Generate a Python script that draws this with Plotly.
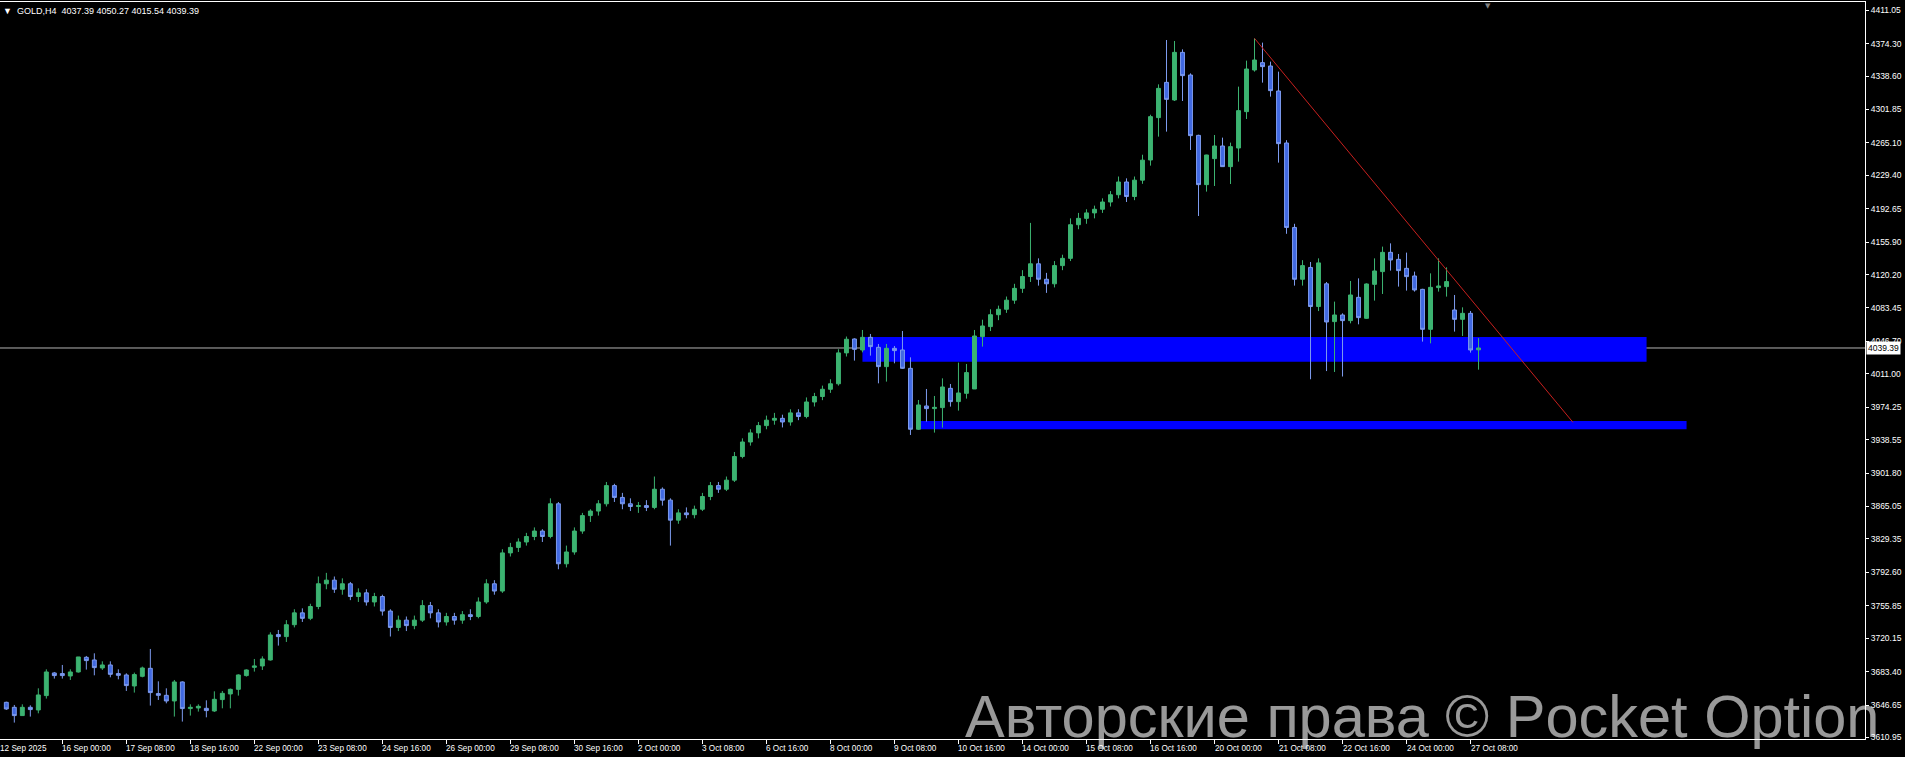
import datetime as dt
import plotly.graph_objects as go

# ---------------- data ----------------
symbol = "GOLD,H4"
first_bar_time = dt.datetime(2025, 9, 12, 20, 0)

opens = [
    3649.6, 3644.1, 3635.0, 3644.1, 3641.2, 3657.0, 3681.9, 3681.2, 3678.6, 3683.0,
    3699.1, 3696.2, 3687.4, 3690.7, 3681.2, 3679.7, 3667.6, 3678.2, 3687.0, 3659.2,
    3657.3, 3651.1, 3672.0, 3642.7, 3643.4, 3643.0, 3640.1, 3652.6, 3658.8, 3663.9,
    3679.0, 3688.1, 3689.6, 3696.2, 3724.1, 3721.9, 3735.0, 3748.0, 3742.0, 3755.0,
    3780.0, 3784.0, 3774.0, 3780.0, 3766.0, 3770.0, 3760.0, 3766.0, 3750.0, 3732.0,
    3740.0, 3734.0, 3740.0, 3756.0, 3748.0, 3738.0, 3744.0, 3740.0, 3746.0, 3744.0,
    3760.0, 3780.0, 3772.0, 3814.0, 3820.0, 3826.0, 3832.0, 3838.0, 3832.0, 3868.0,
    3802.0, 3815.0, 3838.0, 3855.0, 3860.0, 3868.0, 3888.0, 3875.0, 3868.0, 3865.0,
    3866.0, 3864.0, 3884.0, 3872.0, 3850.0, 3858.0, 3856.0, 3862.0, 3876.0, 3888.0,
    3884.0, 3894.0, 3920.0, 3936.0, 3946.0, 3954.0, 3960.0, 3962.0, 3958.0, 3968.0,
    3964.0, 3980.0, 3986.0, 3994.0, 4000.0, 4034.0, 4049.3, 4037.2, 4051.1, 4040.1,
    4018.9, 4039.0, 4037.2, 4017.0, 3950.0, 3975.6, 3972.7, 3973.8, 3995.0, 3980.4,
    3989.5, 3994.3, 4051.9, 4062.9, 4076.0, 4082.0, 4092.0, 4105.0, 4118.0, 4132.0,
    4115.0, 4110.0, 4130.0, 4138.0, 4175.0, 4182.0, 4188.0, 4192.0, 4200.0, 4208.0,
    4222.0, 4206.0, 4224.0, 4246.2, 4292.8, 4331.6, 4312.2, 4364.6, 4339.7, 4273.3,
    4219.1, 4247.7, 4261.6, 4238.9, 4259.4, 4299.4, 4345.2, 4353.3, 4349.6, 4322.1,
    4264.9, 4172.0, 4115.0, 4128.0, 4085.0, 4110.0, 4068.4, 4075.7, 4069.5, 4095.1,
    4072.0, 4109.4, 4123.4, 4144.6, 4136.9, 4127.0, 4118.6, 4103.9, 4059.9, 4105.8,
    4106.9, 4081.2, 4070.9, 4077.5, 4037.39,
]
highs = [
    3650.3, 3646.7, 3647.4, 3646.3, 3665.0, 3685.9, 3683.0, 3690.7, 3685.9, 3699.5,
    3700.6, 3703.5, 3694.7, 3694.7, 3685.9, 3681.5, 3682.3, 3688.9, 3708.3, 3672.7,
    3665.0, 3674.2, 3672.7, 3647.4, 3647.4, 3651.8, 3661.7, 3662.1, 3664.7, 3680.4,
    3685.9, 3697.3, 3700.2, 3726.6, 3729.2, 3740.0, 3752.0, 3753.0, 3758.0, 3788.0,
    3792.0, 3788.0, 3786.0, 3782.0, 3775.0, 3774.0, 3770.0, 3768.0, 3752.0, 3745.0,
    3744.0, 3745.0, 3762.0, 3760.0, 3752.0, 3748.0, 3748.0, 3750.0, 3752.0, 3765.0,
    3785.0, 3784.0, 3818.0, 3825.0, 3830.0, 3836.0, 3842.0, 3840.0, 3874.0, 3870.0,
    3822.0, 3842.0, 3858.0, 3862.0, 3872.0, 3892.0, 3890.0, 3880.0, 3874.0, 3870.0,
    3872.0, 3898.0, 3886.0, 3874.0, 3862.0, 3864.0, 3866.0, 3880.0, 3892.0, 3892.0,
    3898.0, 3925.0, 3940.0, 3950.0, 3958.0, 3965.0, 3968.0, 3966.0, 3972.0, 3972.0,
    3985.0, 3990.0, 3998.0, 4005.0, 4038.0, 4052.0, 4050.0, 4059.2, 4054.8, 4043.8,
    4043.8, 4041.6, 4058.1, 4029.1, 3982.2, 3994.3, 3986.6, 4006.0, 3999.8, 4023.3,
    4021.8, 4059.2, 4070.5, 4082.0, 4086.0, 4096.0, 4110.0, 4125.0, 4177.0, 4138.0,
    4122.0, 4135.0, 4142.0, 4182.0, 4188.0, 4192.0, 4196.0, 4204.0, 4212.0, 4228.0,
    4226.0, 4228.0, 4252.0, 4296.0, 4329.4, 4378.2, 4377.1, 4367.9, 4341.5, 4274.0,
    4252.0, 4273.7, 4270.8, 4265.3, 4326.9, 4355.5, 4380.0, 4375.3, 4354.4, 4343.4,
    4268.0, 4176.0, 4136.0, 4134.0, 4138.0, 4112.0, 4090.4, 4077.5, 4113.1, 4116.0,
    4110.5, 4138.0, 4150.9, 4154.5, 4142.8, 4144.3, 4123.4, 4104.5, 4121.5, 4138.0,
    4128.1, 4097.7, 4084.1, 4080.1, 4050.27,
]
lows = [
    3641.2, 3627.3, 3635.0, 3633.9, 3637.5, 3653.7, 3675.7, 3675.7, 3674.2, 3682.3,
    3685.6, 3679.3, 3685.2, 3677.1, 3674.9, 3662.1, 3660.3, 3677.1, 3646.0, 3652.2,
    3648.5, 3633.9, 3628.4, 3635.0, 3639.4, 3633.1, 3639.0, 3643.0, 3643.0, 3657.0,
    3677.9, 3683.4, 3685.2, 3695.5, 3712.0, 3716.0, 3732.0, 3738.0, 3740.0, 3752.0,
    3774.0, 3770.0, 3768.0, 3762.0, 3760.0, 3756.0, 3755.0, 3745.0, 3722.0, 3728.0,
    3728.0, 3730.0, 3738.0, 3742.0, 3732.0, 3734.0, 3735.0, 3736.0, 3740.0, 3742.0,
    3758.0, 3768.0, 3770.0, 3810.0, 3815.0, 3822.0, 3828.0, 3826.0, 3830.0, 3796.0,
    3798.0, 3812.0, 3835.0, 3848.0, 3855.0, 3865.0, 3870.0, 3862.0, 3860.0, 3858.0,
    3860.0, 3862.0, 3866.0, 3822.0, 3846.0, 3852.0, 3852.0, 3860.0, 3872.0, 3880.0,
    3882.0, 3892.0, 3918.0, 3932.0, 3940.0, 3950.0, 3955.0, 3952.0, 3954.0, 3960.0,
    3962.0, 3975.0, 3982.0, 3990.0, 3998.0, 4030.0, 4025.5, 4034.6, 4031.0, 4000.5,
    4002.4, 4022.5, 4016.3, 3943.7, 3949.2, 3958.4, 3946.3, 3951.8, 3974.9, 3970.5,
    3983.7, 3994.3, 4040.9, 4058.0, 4070.0, 4078.0, 4088.0, 4100.0, 4112.0, 4108.0,
    4100.0, 4106.0, 4125.0, 4135.0, 4170.0, 4176.0, 4182.0, 4188.0, 4195.0, 4204.0,
    4200.0, 4202.0, 4220.0, 4240.0, 4271.9, 4277.4, 4311.1, 4311.1, 4257.2, 4184.6,
    4211.4, 4217.6, 4238.9, 4219.8, 4244.4, 4291.3, 4343.4, 4331.3, 4315.9, 4243.3,
    4165.0, 4108.0, 4108.0, 4005.0, 4080.0, 4014.0, 4013.0, 4008.0, 4066.5, 4065.4,
    4071.5, 4091.5, 4098.8, 4124.5, 4106.9, 4102.5, 4101.4, 4046.4, 4044.5, 4101.4,
    4095.9, 4057.4, 4052.6, 4034.3, 4015.54,
]
closes = [
    3642.3, 3635.0, 3644.1, 3641.6, 3657.7, 3683.0, 3679.0, 3679.0, 3683.0, 3699.5,
    3695.5, 3687.8, 3690.7, 3680.4, 3679.3, 3668.0, 3680.1, 3687.4, 3660.3, 3657.3,
    3651.1, 3672.0, 3642.7, 3644.1, 3645.2, 3640.5, 3652.9, 3659.5, 3663.9, 3679.7,
    3685.2, 3689.6, 3697.3, 3723.7, 3721.9, 3735.0, 3748.0, 3742.0, 3755.0, 3780.0,
    3784.0, 3774.0, 3780.0, 3766.0, 3770.0, 3760.0, 3766.0, 3750.0, 3732.0, 3740.0,
    3734.0, 3740.0, 3756.0, 3748.0, 3738.0, 3744.0, 3740.0, 3746.0, 3744.0, 3760.0,
    3780.0, 3772.0, 3814.0, 3820.0, 3826.0, 3832.0, 3838.0, 3832.0, 3868.0, 3802.0,
    3815.0, 3838.0, 3855.0, 3860.0, 3868.0, 3888.0, 3875.0, 3868.0, 3865.0, 3866.0,
    3864.0, 3884.0, 3872.0, 3850.0, 3858.0, 3856.0, 3862.0, 3876.0, 3888.0, 3884.0,
    3894.0, 3920.0, 3936.0, 3946.0, 3954.0, 3960.0, 3962.0, 3958.0, 3968.0, 3964.0,
    3980.0, 3986.0, 3994.0, 4000.0, 4034.0, 4049.0, 4037.9, 4051.1, 4040.9, 4018.9,
    4039.0, 4036.5, 4017.0, 3950.0, 3976.7, 3972.7, 3974.1, 3996.5, 3980.4, 3989.9,
    4012.3, 4052.6, 4063.6, 4076.0, 4082.0, 4092.0, 4105.0, 4118.0, 4132.0, 4115.0,
    4110.0, 4130.0, 4138.0, 4175.0, 4182.0, 4188.0, 4192.0, 4200.0, 4208.0, 4222.0,
    4206.0, 4224.0, 4246.0, 4293.9, 4325.0, 4312.9, 4364.6, 4339.0, 4273.0, 4219.1,
    4251.7, 4261.6, 4238.9, 4260.9, 4300.5, 4346.3, 4356.2, 4348.9, 4322.5, 4264.2,
    4172.0, 4115.0, 4130.0, 4085.0, 4133.0, 4068.0, 4075.7, 4069.5, 4097.7, 4072.8,
    4109.8, 4124.1, 4144.6, 4136.2, 4124.5, 4117.9, 4103.2, 4059.9, 4106.1, 4107.6,
    4112.4, 4070.9, 4077.5, 4037.2, 4039.39,
]

price_tick_values = [
    4411.05, 4374.30, 4338.60, 4301.85, 4265.10, 4229.40, 4192.65, 4155.90,
    4120.20, 4083.45, 4046.70, 4011.00, 3974.25, 3938.55, 3901.80, 3865.05,
    3829.35, 3792.60, 3755.85, 3720.15, 3683.40, 3646.65, 3610.95,
]
time_tick_labels = [
    "16 Sep 00:00", "17 Sep 08:00", "18 Sep 16:00", "22 Sep 00:00", "23 Sep 08:00",
    "24 Sep 16:00", "26 Sep 00:00", "29 Sep 08:00", "30 Sep 16:00", "2 Oct 00:00",
    "3 Oct 08:00", "6 Oct 16:00", "8 Oct 00:00", "9 Oct 08:00", "10 Oct 16:00",
    "14 Oct 00:00", "15 Oct 08:00", "16 Oct 16:00", "20 Oct 00:00", "21 Oct 08:00",
    "22 Oct 16:00", "24 Oct 00:00", "27 Oct 08:00",
]
first_label = "12 Sep 2025"
bid_price = 4039.39

# horizontal zones (price top, price bottom, start bar, end bar)
zone_tops = [4051.5, 3959.1]
zone_bottoms = [4024.3, 3950.0]
zone_start_bars = [107, 114]
zone_end_bars = [205, 210]

# trend line (bar, price)
trend_bars = [156, 195.8]
trend_prices = [4380.0, 3957.6]

watermark = "Авторские права © Pocket Option"

# ---------------- build ----------------
n = len(opens)
bar_times = []
t = first_bar_time
while len(bar_times) < n:
    if t.weekday() < 5:
        bar_times.append(t)
    t += dt.timedelta(hours=4)
time_text = [f"{b.day} {b:%b %H:%M}" for b in bar_times]
tick_bars = [time_text.index(s) for s in time_tick_labels]
x = list(range(n))

FONT = "Liberation Sans, Arial, sans-serif"

fig = go.Figure()
fig.add_trace(go.Candlestick(
    x=x, open=opens, high=highs, low=lows, close=closes,
    increasing=dict(line=dict(color="#3CB371", width=1), fillcolor="#3CB371"),
    decreasing=dict(line=dict(color="#7D9BEE", width=1), fillcolor="#4169E1"),
    whiskerwidth=0, hoverinfo="skip", showlegend=False,
))

shapes = []
for top, bot, s, e in zip(zone_tops, zone_bottoms, zone_start_bars, zone_end_bars):
    shapes.append(dict(type="rect", xref="x", yref="y", x0=s, x1=e, y0=bot, y1=top,
                       fillcolor="#0000FF", line=dict(width=0), layer="below"))
shapes.append(dict(type="line", xref="paper", yref="y", x0=0, x1=1,
                   y0=bid_price, y1=bid_price, line=dict(color="#B4B4B4", width=1),
                   layer="below"))
shapes.append(dict(type="line", xref="x", yref="y", x0=trend_bars[0], x1=trend_bars[1],
                   y0=trend_prices[0], y1=trend_prices[1],
                   line=dict(color="#C8201E", width=1)))

annotations = []
for b, lab in zip(tick_bars, time_tick_labels):
    annotations.append(dict(x=b, xref="x", y=0, yref="paper", text=lab, showarrow=False,
                            xanchor="left", yanchor="top", xshift=-2, yshift=-3,
                            font=dict(family=FONT, size=8.2, color="#FFFFFF")))
annotations.append(dict(x=0, xref="paper", y=0, yref="paper", text=first_label,
                        showarrow=False, xanchor="left", yanchor="top", xshift=-2, yshift=-3,
                        font=dict(family=FONT, size=8.2, color="#FFFFFF")))
header = f"▼  {symbol}  {opens[-1]:.2f} {highs[-1]:.2f} {lows[-1]:.2f} {closes[-1]:.2f}"
annotations.append(dict(x=0, xref="paper", y=1, yref="paper", text=header, showarrow=False,
                        xanchor="left", yanchor="top", xshift=1, yshift=-2,
                        font=dict(family=FONT, size=9, color="#FFFFFF")))
annotations.append(dict(x=1, xref="paper", y=bid_price, yref="y",
                        text=f"{bid_price:.2f}", showarrow=False, xanchor="left",
                        yanchor="middle", xshift=1, bgcolor="#FFFFFF", borderpad=1,
                        font=dict(family=FONT, size=8.5, color="#000000")))
annotations.append(dict(x=0.798, xref="paper", y=1, yref="paper", text="▼", showarrow=False,
                        xanchor="center", yanchor="top", yshift=2,
                        font=dict(family="DejaVu Sans", size=7, color="#808080")))
annotations.append(dict(x=1.0086, xref="paper", y=0, yref="paper", text=watermark,
                        showarrow=False, xanchor="right", yanchor="bottom", yshift=-13,
                        font=dict(family="Liberation Sans, Arial, sans-serif", size=59.5,
                                  color="rgba(255,255,255,0.6)")))

fig.update_layout(
    width=1905, height=757,
    margin=dict(l=0, r=40, t=2, b=18),
    paper_bgcolor="#000000", plot_bgcolor="#000000",
    shapes=shapes, annotations=annotations,
    showlegend=False,
    xaxis=dict(range=[-0.79, 232.3], rangeslider=dict(visible=False),
               showgrid=False, zeroline=False, showline=True, linecolor="#FFFFFF",
               linewidth=1, mirror=True, tickvals=tick_bars, showticklabels=False,
               ticks="outside", ticklen=4, tickcolor="#FFFFFF"),
    yaxis=dict(range=[3609.25, 4420.0], side="right", showgrid=False, zeroline=False,
               showline=True, linecolor="#FFFFFF", linewidth=1, mirror=True,
               tickvals=price_tick_values,
               ticktext=[f"{v:.2f}" for v in price_tick_values],
               ticks="outside", ticklen=3, tickcolor="#FFFFFF",
               tickfont=dict(family=FONT, size=8.5, color="#FFFFFF")),
)

fig.write_html("out.html", config={"displayModeBar": False},
               post_script="document.body.style.margin='0';document.body.style.overflow='hidden';")
